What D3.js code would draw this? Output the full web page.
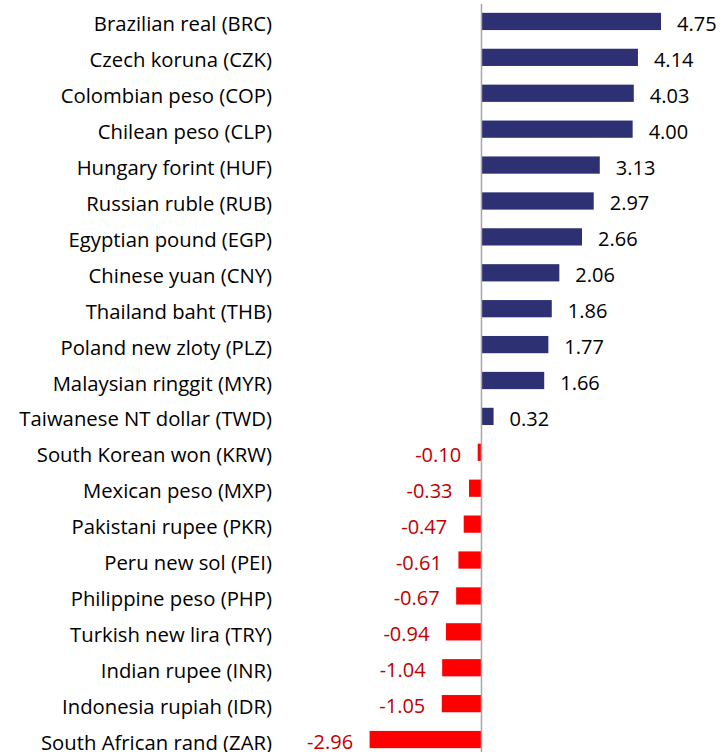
<!DOCTYPE html>
<html>
<head>
<meta charset="utf-8">
<script src="https://cdn.jsdelivr.net/npm/d3@7"></script>
<style>
  body { margin: 0; background: #fff; }
  svg text { font-family: "Open Sans", "Noto Sans", sans-serif; }
</style>
</head>
<body>
<svg></svg>
<script>
let currencies = [
    "Brazilian real (BRC)", "Czech koruna (CZK)", "Colombian peso (COP)", "Chilean peso (CLP)",
    "Hungary forint (HUF)", "Russian ruble (RUB)", "Egyptian pound (EGP)", "Chinese yuan (CNY)",
    "Thailand baht (THB)", "Poland new zloty (PLZ)", "Malaysian ringgit (MYR)", "Taiwanese NT dollar (TWD)",
    "South Korean won (KRW)", "Mexican peso (MXP)", "Pakistani rupee (PKR)", "Peru new sol (PEI)",
    "Philippine peso (PHP)", "Turkish new lira (TRY)", "Indian rupee (INR)", "Indonesia rupiah (IDR)",
    "South African rand (ZAR)"
];
let changes = [4.75, 4.14, 4.03, 4.00, 3.13, 2.97, 2.66, 2.06, 1.86, 1.77, 1.66, 0.32,
    -0.10, -0.33, -0.47, -0.61, -0.67, -0.94, -1.04, -1.05, -2.96];

let width = 721;
let height = 752;

let svg = d3.select('svg')
    .attr('width', width)
    .attr('height', height);

let values = currencies.map((c, i) => ({ name: c, value: changes[i] }));

let xScale = d3.scaleLinear()
    .domain([-2.96, 4.75])
    .range([369.6, 661]);

let yScale = d3.scaleBand()
    .domain(currencies)
    .range([3.5, 757.5])
    .paddingInner(0.52)
    .paddingOuter(0.26);

let fmt = v => (v < 0 ? '-' : '') + d3.format('.2f')(Math.abs(v));

svg.selectAll('rect.bar')
    .data(values)
    .enter()
    .append('rect')
    .attr('class', 'bar')
    .attr('x', d => xScale(Math.min(0, d.value)))
    .attr('y', d => yScale(d.name))
    .attr('width', d => Math.abs(xScale(d.value) - xScale(0)))
    .attr('height', yScale.bandwidth())
    .attr('fill', d => d.value >= 0 ? '#2E3074' : '#FF0000');

// zero line
svg.append('line')
    .attr('x1', xScale(0)).attr('x2', xScale(0))
    .attr('y1', 4).attr('y2', height)
    .attr('stroke', '#A6A6A6')
    .attr('stroke-width', 1.5);

// category labels
svg.selectAll('text.cat')
    .data(values)
    .enter()
    .append('text')
    .attr('class', 'cat')
    .attr('x', 272)
    .attr('y', d => yScale(d.name) + yScale.bandwidth() / 2 + 10)
    .attr('text-anchor', 'end')
    .attr('font-size', 20.3)
    .attr('fill', '#000')
    .text(d => d.name);

// value labels
svg.selectAll('text.val')
    .data(values)
    .enter()
    .append('text')
    .attr('class', 'val')
    .attr('x', d => d.value >= 0 ? xScale(d.value) + 16 : xScale(d.value) - 16.5)
    .attr('y', d => yScale(d.name) + yScale.bandwidth() / 2 + 9.5)
    .attr('text-anchor', d => d.value >= 0 ? 'start' : 'end')
    .attr('font-size', 20)
    .attr('fill', d => d.value >= 0 ? '#000' : '#C00000')
    .text(d => fmt(d.value));
</script>
</body>
</html>
